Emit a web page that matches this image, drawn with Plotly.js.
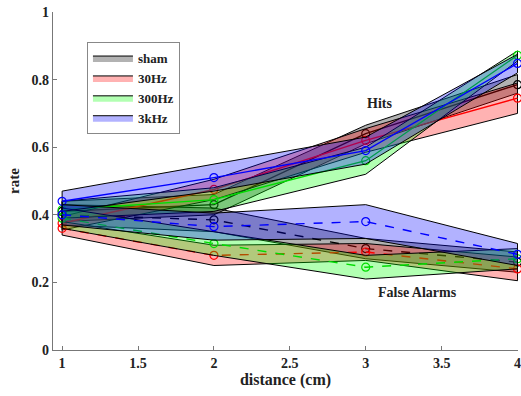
<!DOCTYPE html>
<html>
<head>
<meta charset="utf-8">
<script src="https://cdn.plot.ly/plotly-3.0.1.min.js"></script>
<style>html,body{margin:0;padding:0;background:#fff;}#chart{width:521px;height:396px;}</style>
</head>
<body>
<div id="chart"></div>
<script>
// ---- data ----
const distance = [1, 2, 3, 4];
const groups = ["sham", "30Hz", "300Hz", "3kHz"];

// Hits: mean, lower, upper
const hitsSham  = [0.41, 0.43, 0.64, 0.785];
const hitsShamLo = [0.38, 0.40, 0.61, 0.76];
const hitsShamHi = [0.44, 0.46, 0.665, 0.815];
const hits30  = [0.375, 0.475, 0.62, 0.745];
const hits30Lo = [0.355, 0.445, 0.585, 0.70];
const hits30Hi = [0.395, 0.505, 0.655, 0.79];
const hits300  = [0.415, 0.445, 0.56, 0.872];
const hits300Lo = [0.39, 0.41, 0.52, 0.855];
const hits300Hi = [0.44, 0.48, 0.60, 0.885];
const hits3k  = [0.44, 0.51, 0.59, 0.848];
const hits3kLo = [0.41, 0.47, 0.55, 0.82];
const hits3kHi = [0.47, 0.55, 0.63, 0.875];

// False alarms: mean, lower, upper
const faSham  = [0.40, 0.385, 0.30, 0.26];
const faShamLo = [0.37, 0.35, 0.27, 0.23];
const faShamHi = [0.43, 0.42, 0.33, 0.29];
const fa30  = [0.36, 0.28, 0.29, 0.24];
const fa30Lo = [0.34, 0.25, 0.265, 0.205];
const fa30Hi = [0.38, 0.31, 0.315, 0.275];
const fa300  = [0.39, 0.315, 0.245, 0.27];
const fa300Lo = [0.36, 0.28, 0.21, 0.24];
const fa300Hi = [0.42, 0.35, 0.28, 0.30];
const fa3k  = [0.40, 0.365, 0.38, 0.283];
const fa3kLo = [0.37, 0.325, 0.33, 0.25];
const fa3kHi = [0.43, 0.405, 0.43, 0.315];

const xTicks = [1, 1.5, 2, 2.5, 3, 3.5, 4];
const yTicks = [0, 0.2, 0.4, 0.6, 0.8, 1];

// ---- styling ----
const fills = ["rgba(0,0,0,0.3)", "rgba(255,0,0,0.3)", "rgba(0,255,0,0.3)", "rgba(0,0,255,0.3)"];
const lineCols = ["#000000", "#ff0000", "#00dd00", "#0000ff"];
const font = "Liberation Serif, Times New Roman, serif";

const hitsSets = [
  [hitsSham, hitsShamLo, hitsShamHi],
  [hits30, hits30Lo, hits30Hi],
  [hits300, hits300Lo, hits300Hi],
  [hits3k, hits3kLo, hits3kHi]
];
const faSets = [
  [faSham, faShamLo, faShamHi],
  [fa30, fa30Lo, fa30Hi],
  [fa300, fa300Lo, fa300Hi],
  [fa3k, fa3kLo, fa3kHi]
];

const traces = [];
function band(lo, hi, i, legend) {
  return {
    x: distance.concat(distance.slice().reverse(), [distance[0]]),
    y: hi.concat(lo.slice().reverse(), [hi[0]]),
    type: "scatter", mode: "lines", fill: "toself",
    fillcolor: fills[i],
    line: {color: "#000", width: 1},
    name: groups[i], showlegend: legend,
    cliponaxis: false, hoverinfo: "skip"
  };
}
function meanLine(m, i, dash) {
  return {
    x: distance, y: m, type: "scatter", mode: "lines+markers",
    line: {color: lineCols[i], width: 1.4, dash: dash},
    marker: {symbol: "circle-open", size: 8, color: lineCols[i], line: {width: 1.2}},
    showlegend: false, cliponaxis: false
  };
}
for (let i = 0; i < 4; i++) {
  traces.push(band(hitsSets[i][1], hitsSets[i][2], i, true));
  traces.push(meanLine(hitsSets[i][0], i, "solid"));
  traces.push(band(faSets[i][1], faSets[i][2], i, false));
  traces.push(meanLine(faSets[i][0], i, "dash"));
}

const layout = {
  width: 521, height: 396,
  margin: {l: 53, r: 3, t: 12, b: 46},
  paper_bgcolor: "#fff", plot_bgcolor: "#fff",
  font: {family: font, size: 14, color: "#222"},
  showlegend: true,
  legend: {
    x: 0.073, y: 0.911, xanchor: "left", yanchor: "top",
    bgcolor: "#fff", bordercolor: "#888", borderwidth: 1,
    font: {family: font, size: 13, color: "#222", weight: "bold"},
    tracegroupgap: 0, itemwidth: 40
  },
  xaxis: {
    range: [0.94, 4.003], tickvals: xTicks, ticktext: xTicks.map(String),
    ticks: "inside", ticklen: 4, tickcolor: "#777",
    ticklabeloverflow: "allow",
    showline: true, linecolor: "#777", linewidth: 1.2,
    showgrid: false, zeroline: false,
    tickfont: {family: font, size: 14, weight: "bold", color: "#222"},
    title: {text: "distance (cm)", font: {family: font, size: 16, weight: "bold", color: "#222"}, standoff: 2}
  },
  yaxis: {
    range: [0, 1], tickvals: yTicks, ticktext: yTicks.map(String),
    ticks: "inside", ticklen: 4, tickcolor: "#777",
    showline: true, linecolor: "#777", linewidth: 1.2,
    showgrid: false, zeroline: false,
    tickfont: {family: font, size: 14, weight: "bold", color: "#222"},
    title: {text: "rate", font: {family: font, size: 15, weight: "bold", color: "#222"}, standoff: 8}
  },
  annotations: [
    {x: 3.09, y: 0.73, text: "Hits", showarrow: false, font: {family: font, size: 14, weight: "bold", color: "#222"}},
    {x: 3.34, y: 0.17, text: "False Alarms", showarrow: false, font: {family: font, size: 14, weight: "bold", color: "#222"}}
  ]
};

Plotly.newPlot("chart", traces, layout, {displayModeBar: false, staticPlot: true});
</script>
</body>
</html>
